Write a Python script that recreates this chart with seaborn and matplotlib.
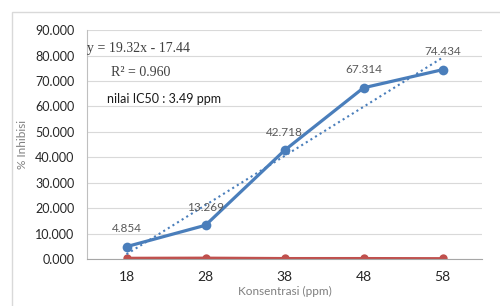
import pandas as pd
import matplotlib.pyplot as plt
import seaborn as sns
from matplotlib.patches import Rectangle

# data
konsentrasi = [18, 28, 38, 48, 58]
inhibisi = [4.854, 13.269, 42.718, 67.314, 74.434]
kontrol = [0.35, 0.4, 0.25, 0.25, 0.2]
label_teks = ["4.854", "13.269", "42.718", "67.314", "74.434"]

df = pd.DataFrame({"Konsentrasi": konsentrasi, "Inhibisi": inhibisi, "Kontrol": kontrol})

sns.set_style("white")
plt.rcParams['font.family'] = ['Lato', 'DejaVu Sans']

blue = "#4A7EBB"
red = "#C0504D"
grey = "#595959"

fig = plt.figure(figsize=(5, 3.06), dpi=100)
ax = fig.add_axes([0.174, 0.1536, 0.79, 0.748])

# outer chart border
fig.add_artist(Rectangle((0.024, -0.1), 1.2, 1.06, transform=fig.transFigure,
                         fill=False, edgecolor="#D9D9D9", linewidth=1))

sns.lineplot(data=df, x="Konsentrasi", y="Kontrol", color=red, linewidth=2,
             marker="o", markersize=6, markeredgewidth=0, ax=ax)
sns.lineplot(data=df, x="Konsentrasi", y="Inhibisi", color=blue, linewidth=2.3,
             marker="o", markersize=7, markeredgewidth=0, ax=ax)
sns.regplot(data=df, x="Konsentrasi", y="Inhibisi", scatter=False, ci=None, ax=ax,
            line_kws=dict(color=blue, linestyle=(0, (1, 1.6)), linewidth=1.5))

for xv, yv, t in zip(konsentrasi, inhibisi, label_teks):
    ax.annotate(t, (xv, yv), xytext=(0, 9), textcoords="offset points",
                ha="center", va="bottom", fontsize=8.5, color=grey)

ax.set_xlim(13, 63)
ax.set_ylim(0, 90)
ax.set_xticks(konsentrasi)
ax.set_xticklabels([str(k) for k in konsentrasi])
ax.set_yticks(range(0, 91, 10))
ax.set_yticklabels([f"{v:.3f}" for v in range(0, 91, 10)])
ax.tick_params(axis="y", labelsize=9, colors="#262626", length=0, pad=9)
ax.tick_params(axis="x", labelsize=10, colors="#262626", length=0, pad=9)
ax.grid(axis="y", color="#D9D9D9", linewidth=0.8)
for s in ["top", "right"]:
    ax.spines[s].set_visible(False)
ax.spines["left"].set_color("#BFBFBF")
ax.spines["bottom"].set_color("#A6A6A6")

ax.set_xlabel("Konsentrasi (ppm)", fontsize=8.5, color="#7F7F7F", labelpad=2)
ax.set_ylabel("% Inhibisi", fontsize=8.5, color="#7F7F7F", labelpad=5)

ax.text(0.0, 0.905, "y = 19.32x - 17.44", transform=ax.transAxes, fontsize=10,
        family="Liberation Serif", color="#404040")
ax.text(0.06, 0.8, "R² = 0.960", transform=ax.transAxes, fontsize=10,
        family="Liberation Serif", color="#404040")
ax.text(0.05, 0.68, "nilai IC50 : 3.49 ppm", transform=ax.transAxes, fontsize=9,
        color="#1A1A1A")

plt.savefig("out.png", dpi=100)
